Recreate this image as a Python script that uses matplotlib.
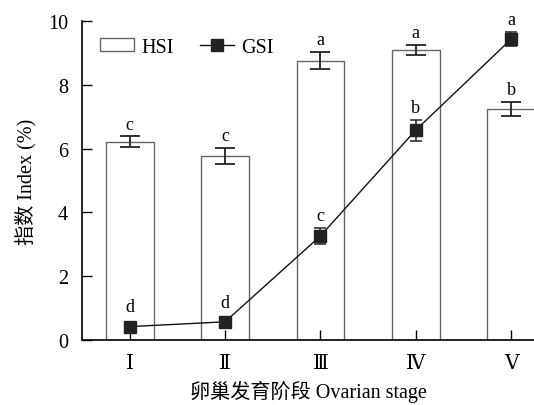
import matplotlib
matplotlib.use("Agg")
import matplotlib.pyplot as plt
import numpy as np

plt.rcParams['font.family'] = ['Liberation Serif', 'DejaVu Serif', 'Noto Sans CJK SC']

stages = ['Ⅰ', 'Ⅱ', 'Ⅲ', 'Ⅳ', 'Ⅴ']
hsi = [6.22, 5.78, 8.76, 9.10, 7.24]
hsi_err = [0.16, 0.25, 0.28, 0.16, 0.23]
hsi_letters = ['c', 'c', 'a', 'a', 'b']
gsi = [0.42, 0.57, 3.26, 6.58, 9.43]
gsi_err = [0.05, 0.05, 0.25, 0.33, 0.22]
gsi_letters = ['d', 'd', 'c', 'b', 'a']

fig = plt.figure(figsize=(5.34, 4.06), dpi=100)
ax = fig.add_axes([82/534, 65/406, 1 - 82/534, (341-22)/406])

x = np.arange(1, len(stages) + 1)
bars = ax.bar(x, hsi, width=0.5, facecolor='white', edgecolor='#666666', linewidth=1.0,
              label='HSI', zorder=1)
ax.errorbar(x, hsi, yerr=hsi_err, fmt='none', ecolor='#222222', elinewidth=1.3,
            capsize=7.5, capthick=1.3, zorder=2)
ax.errorbar(x, gsi, yerr=gsi_err, fmt='none', ecolor='#222222', elinewidth=1.1,
            capsize=4, capthick=1.1, zorder=3)
line, = ax.plot(x, gsi, color='#111111', linewidth=1.0, marker='s', markersize=8,
                markerfacecolor='#222222', markeredgecolor='#222222', label='GSI', zorder=4)

for xi, v, e, t in zip(x, hsi, hsi_err, hsi_letters):
    ax.text(xi, v + e + 0.12, t, ha='center', va='bottom', fontsize=13)
for xi, v, e, t in zip(x, gsi, gsi_err, gsi_letters):
    off = 0.3 if e < 0.1 else 0.12
    ax.text(xi, v + e + off, t, ha='center', va='bottom', fontsize=13)

ax.set_xlim(0.5, 5.24)
ax.set_ylim(0, 10)
ax.set_yticks([0, 2, 4, 6, 8, 10])
ax.set_xticks(x)
ax.set_xticklabels(stages)
ax.tick_params(axis='both', direction='in', length=7, width=1.0, labelsize=14.5, pad=10)
ax.spines['top'].set_visible(False)
ax.spines['right'].set_visible(False)
for s in ['left', 'bottom']:
    ax.spines[s].set_linewidth(1.2)

ax.set_ylabel('指数 Index (%)', fontsize=14.5, labelpad=8)
ax.set_xlabel('卵巢发育阶段 Ovarian stage', fontsize=14.5, labelpad=5)

leg = ax.legend([bars, line], ['HSI', 'GSI'], loc='upper left', ncol=2, frameon=False,
                fontsize=14.5, bbox_to_anchor=(0.0, 1.005), handlelength=1.7,
                handleheight=0.6, columnspacing=1.3, handletextpad=0.35)

fig.savefig('out.png', dpi=100)
